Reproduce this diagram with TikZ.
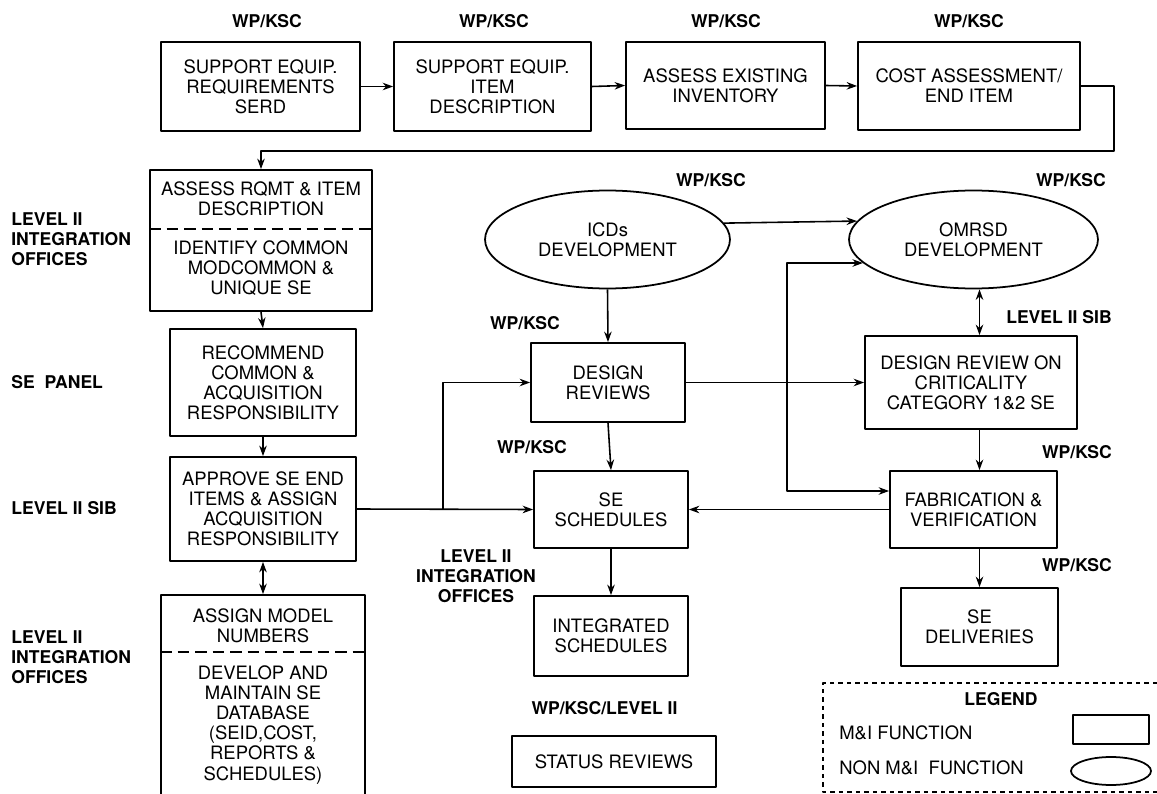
\documentclass[tikz,border=0pt]{standalone}
\usepackage{fontspec}
\setmainfont{TeX Gyre Heros}
\usetikzlibrary{arrows.meta,shapes.geometric}
\tikzset{
  every picture/.style={line join=round, >={Stealth[length=2.1mm,width=1.5mm]}},
  txt/.style={font=\fontsize{10.5}{11.4}\selectfont},
  mibox/.style={txt, draw, rectangle, line width=1pt, inner sep=0pt, align=center},
  nonmibox/.style={txt, draw, ellipse, line width=1pt, inner sep=0pt, align=center},
  boxtext/.style={txt, inner sep=0pt, align=center},
  orglabel/.style={font=\bfseries\fontsize{10}{11.4}\selectfont, inner sep=0pt, align=center},
  sidelabel/.style={orglabel, anchor=west, align=left},
  flow/.style={->, line width=0.9pt},
  split line/.style={line width=1pt, dash pattern=on 0.23cm off 0.12cm},
}

\begin{document}
\begin{tikzpicture}[x=0.02cm,y=-0.02cm]
\useasboundingbox (0,0) rectangle (1157,794);

% top row
\node[mibox,minimum width=3.98cm,minimum height=1.78cm] (serd) at (260.5,86.5) {SUPPORT EQUIP.\\REQUIREMENTS\\SERD};
\node[mibox,minimum width=3.94cm,minimum height=1.78cm] (itemdesc) at (492.5,86.5) {SUPPORT EQUIP.\\ITEM\\DESCRIPTION};
\node[mibox,minimum width=3.98cm,minimum height=1.74cm] (inventory) at (725.5,85.5) {ASSESS EXISTING\\INVENTORY};
\node[mibox,minimum width=4.44cm,minimum height=1.76cm] (costend) at (969,86) {COST ASSESSMENT/\\END ITEM};
\node[orglabel] at (267,21) {WP/KSC};
\node[orglabel] at (494,21) {WP/KSC};
\node[orglabel] at (726,21) {WP/KSC};
\node[orglabel] at (969,21) {WP/KSC};

% left column
\node[mibox,minimum width=4.44cm,minimum height=2.82cm] (assessrqmt) at (261,240.5) {};
\node[boxtext] at (261,199) {ASSESS RQMT \& ITEM\\DESCRIPTION};
\node[boxtext] at (261,268.5) {IDENTIFY COMMON\\MODCOMMON \&\\UNIQUE SE};
\draw[split line] (assessrqmt.west |- 0,229) -- (assessrqmt.east |- 0,229);
\node[mibox,minimum width=3.72cm,minimum height=2.14cm] (recommend) at (263,382.5) {RECOMMEND\\COMMON \&\\ACQUISITION\\RESPONSIBILITY};
\node[mibox,minimum width=3.72cm,minimum height=2.08cm] (approve) at (263,509) {APPROVE SE END\\ITEMS \& ASSIGN\\ACQUISITION\\RESPONSIBILITY};
\node[mibox,minimum width=4.08cm,minimum height=4.1cm] (assignmodel) at (263,697.5) {};
\node[boxtext] at (263,625.5) {ASSIGN MODEL\\NUMBERS};
\node[boxtext] at (263,725) {DEVELOP AND\\MAINTAIN SE\\DATABASE\\(SEID,COST,\\REPORTS \&\\SCHEDULES)};
\draw[split line] (assignmodel.west |- 0,652) -- (assignmodel.east |- 0,652);
\node[sidelabel] at (11,239) {LEVEL II\\INTEGRATION\\OFFICES};
\node[sidelabel] at (11,382) {SE\ \ PANEL};
\node[sidelabel] at (11,508) {LEVEL II SIB};
\node[sidelabel] at (11,657) {LEVEL II\\INTEGRATION\\OFFICES};

% middle column
\node[nonmibox,minimum width=4.9cm,minimum height=1.96cm] (icds) at (607.5,239.5) {ICDs\\DEVELOPMENT};
\node[mibox,minimum width=3.08cm,minimum height=1.58cm] (designrev) at (608,382.5) {DESIGN\\REVIEWS};
\node[mibox,minimum width=3.08cm,minimum height=1.54cm] (sesched) at (611,509.5) {SE\\SCHEDULES};
\node[mibox,minimum width=3.08cm,minimum height=1.6cm] (integrated) at (611,636) {INTEGRATED\\SCHEDULES};
\node[mibox,minimum width=4.08cm,minimum height=1.02cm] (status) at (614,761.5) {STATUS REVIEWS};
\node[orglabel] at (711,180) {WP/KSC};
\node[orglabel] at (525,323) {WP/KSC};
\node[orglabel] at (532,447) {WP/KSC};
\node[orglabel] at (476,576) {LEVEL II\\INTEGRATION\\OFFICES};
\node[orglabel] at (604.5,708) {WP/KSC/LEVEL II};

% right column
\node[nonmibox,minimum width=4.98cm,minimum height=1.96cm] (omrsd) at (973.5,239.5) {OMRSD\\DEVELOPMENT};
\node[mibox,minimum width=4.24cm,minimum height=1.86cm] (drc) at (971,382.5) {DESIGN REVIEW ON\\CRITICALITY\\CATEGORY 1\&2 SE};
\node[mibox,minimum width=3.34cm,minimum height=1.54cm] (fab) at (973.5,509.5) {FABRICATION \&\\VERIFICATION};
\node[mibox,minimum width=3.14cm,minimum height=1.56cm] (deliv) at (979.5,627) {SE\\DELIVERIES};
\node[orglabel] at (1071,180) {WP/KSC};
\node[orglabel] at (1059,317) {LEVEL II SIB};
\node[orglabel] at (1077,452) {WP/KSC};
\node[orglabel] at (1077,565) {WP/KSC};

% connectors
\coordinate (loopr) at (1114,151);
\coordinate (branch) at (443,509);
\coordinate (split) at (787,491);
\draw[flow] (serd.east) -- (itemdesc.west);
\draw[flow] (itemdesc.east) -- (inventory.west);
\draw[flow] (inventory.east) -- (costend.west);
\draw[flow] (costend.east) -| (loopr) -| (assessrqmt.north);
\draw[flow] (assessrqmt.south) -- (recommend.north);
\draw[flow] (recommend.south) -- (approve.north);
\draw[flow,<->] (approve.south) -- (assignmodel.north);
\draw[flow] (approve.east) -- (sesched.west);
\draw[flow] (branch) |- (designrev.west);
\draw[flow] (icds.8.4) -- (omrsd.171.6);
\draw[flow] (icds.south) -- (designrev.north);
\draw[flow] (designrev.south) -- (sesched.north);
\draw[flow] (sesched.south) -- (integrated.north);
\draw[flow] (designrev.east) -- (drc.west);
\draw[flow,<->] (omrsd.192.5) -| (split) -- (split -| fab.west);
\draw[flow,<->] (deliv.north |- omrsd.south) -- (deliv.north |- drc.north);
\draw[flow] (deliv.north |- drc.south) -- (deliv.north |- fab.north);
\draw[flow] (fab.west) -- (sesched.east);
\draw[flow] (deliv.north |- fab.south) -- (deliv.north);

% legend
\draw[line width=0.8pt, dash pattern=on 0.09cm off 0.08cm] (1157,683) -- (823,683) -- (823,792) -- (1157,792);
\node[orglabel] at (1001,699) {LEGEND};
\node[boxtext,anchor=west] at (839,733) {M\&I FUNCTION};
\node[boxtext,anchor=west] at (839,768) {NON M\&I\ \ FUNCTION};
\node[mibox,minimum width=1.52cm,minimum height=0.58cm] (legbox) at (1111,729.5) {};
\node[nonmibox,minimum width=1.6cm,minimum height=0.56cm] (legoval) at (1111,771) {};
\end{tikzpicture}
\end{document}
